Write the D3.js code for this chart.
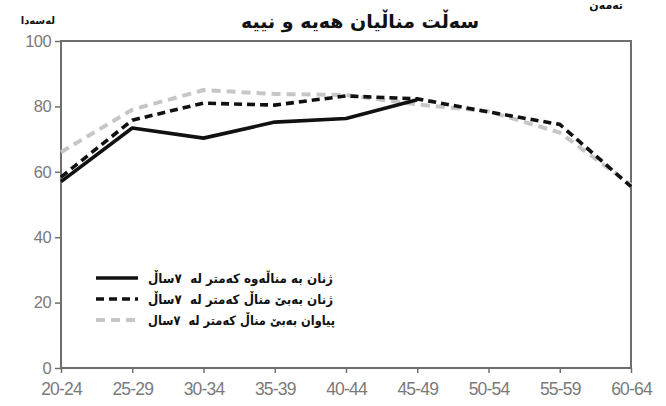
<!DOCTYPE html>
<html><head><meta charset="utf-8">
<script src="https://cdn.jsdelivr.net/npm/d3@7"></script>
<style>body{margin:0;background:#fff}svg{display:block}</style>
</head><body>
<script>
const categories = ["20-24","25-29","30-34","35-39","40-44","45-49","50-54","55-59","60-64"];
const womenWithChild = [57, 73.4, 70.3, 75.2, 76.3, 82, null, null, null];
const womenNoChild = [58.4, 75.8, 81, 80.4, 83.2, 82.3, 78.3, 74.5, 55.5];
const menNoChild = [66, 79, 85, 83.8, 83.5, 80.6, 78.5, 72, 56];
const yTicks = [0, 20, 40, 60, 80, 100];
const title = "سەڵت مناڵیان هەیه و نییه";
const yLabel = "لەسەدا";
const xLabel = "تەمەن";
const legendLabels = ["ژنان به مناڵەوه کەمتر له \u00A0٧ساڵ", "ژنان بەبێ مناڵ کەمتر له \u00A0٧ساڵ", "پیاوان بەبێ مناڵ کەمتر له \u00A0٧سال"];

const W = 666, H = 406;
const svg = d3.select("body").append("svg").attr("width", W).attr("height", H);
const x = d3.scalePoint().domain(categories).range([61, 631]);
const y = d3.scaleLinear().domain([0, 100]).range([368, 41]);
const arFont = "'DejaVu Sans', sans-serif";
const numFont = "'Liberation Sans', Arial, sans-serif";
const axisColor = "#6e6e6e";

// frame
svg.append("rect").attr("x", x.range()[0]).attr("y", y(100))
  .attr("width", x.range()[1] - x.range()[0]).attr("height", y(0) - y(100))
  .attr("fill", "none").attr("stroke", axisColor).attr("stroke-width", 2);

// y axis
const yAxis = svg.append("g").attr("transform", `translate(${x.range()[0]},0)`)
  .call(d3.axisLeft(y).tickValues(yTicks).tickSize(6).tickPadding(4));
yAxis.select(".domain").remove();
yAxis.selectAll("line").attr("stroke", axisColor).attr("stroke-width", 1.5);
yAxis.selectAll("text").attr("fill", "#7a7a7a").attr("font-size", 16.5).attr("font-family", numFont).attr("letter-spacing", -0.6);

// x axis
const xAxis = svg.append("g").attr("transform", `translate(0,${y(0)})`)
  .call(d3.axisBottom(x).tickSize(5).tickPadding(10));
xAxis.select(".domain").remove();
xAxis.selectAll("line").attr("stroke", axisColor).attr("stroke-width", 1.5);
xAxis.selectAll("text").attr("fill", "#7a7a7a").attr("font-size", 17.5).attr("font-family", numFont).attr("letter-spacing", -0.8);

const series = [
  {vals: menNoChild, color: "#c6c6c6", dash: "9,6", w: 4},
  {vals: womenNoChild, color: "#111", dash: "8,5", w: 3.6},
  {vals: womenWithChild, color: "#111", dash: null, w: 3.6}
];
const line = d3.line().defined(d => d.v != null).x(d => x(d.c)).y(d => y(d.v));
series.forEach(s => {
  svg.append("path")
    .datum(categories.map((c, i) => ({c, v: s.vals[i]})))
    .attr("d", line).attr("fill", "none")
    .attr("stroke", s.color).attr("stroke-width", s.w)
    .attr("stroke-dasharray", s.dash).attr("stroke-linejoin", "round");
});

// title & labels
svg.append("text").attr("x", 360).attr("y", 28).attr("text-anchor", "middle")
  .attr("font-family", arFont).attr("font-weight", "bold").attr("font-size", 19).attr("fill", "#111").text(title);
svg.append("text").attr("x", 55).attr("y", 24).attr("text-anchor", "end")
  .attr("font-family", arFont).attr("font-weight", "bold").attr("font-size", 10).attr("fill", "#111").text(yLabel);
svg.append("text").attr("x", 623).attr("y", 9).attr("text-anchor", "end")
  .attr("font-family", arFont).attr("font-weight", "bold").attr("font-size", 11).attr("fill", "#111").text(xLabel);

// legend
const legStyles = [
  {color: "#111", dash: null, w: 3.6},
  {color: "#111", dash: "8,5", w: 3.6},
  {color: "#c6c6c6", dash: "9,6", w: 4}
];
legendLabels.forEach((t, i) => {
  const ly = 278 + i * 21;
  svg.append("line").attr("x1", 96).attr("x2", 138).attr("y1", ly).attr("y2", ly)
    .attr("stroke", legStyles[i].color).attr("stroke-width", legStyles[i].w)
    .attr("stroke-dasharray", legStyles[i].dash);
  svg.append("text").attr("x", 148).attr("y", ly + 5)
    .attr("textLength", i === 2 ? 187 : 185).attr("lengthAdjust", "spacingAndGlyphs")
    .attr("font-family", arFont).attr("font-weight", "bold").attr("font-size", 13).attr("fill", "#111").text(t);
});
</script>
</body></html>
